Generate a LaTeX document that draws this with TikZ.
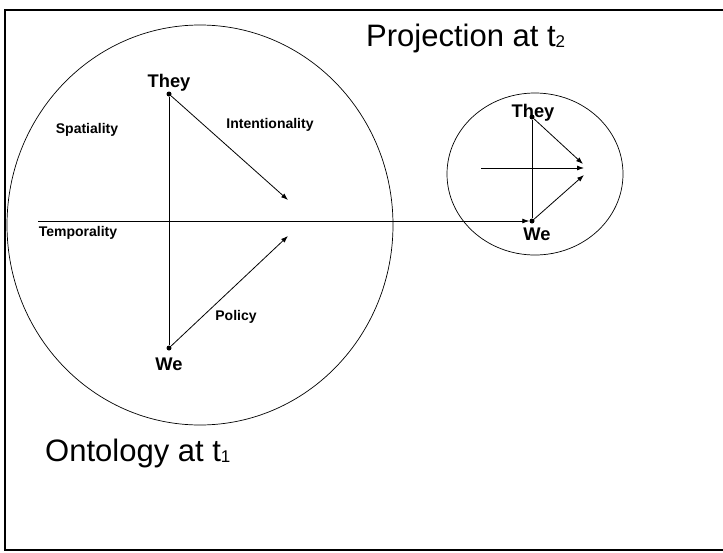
\documentclass[tikz,border=0pt]{standalone}
\usepackage{fontspec}
\setmainfont{Liberation Sans}
\usetikzlibrary{arrows.meta}
\newcommand{\subdig}[1]{\raisebox{-1pt}{\fontsize{17}{20}\selectfont #1}}
\tikzset{
  dot/.style={circle,fill=black,inner sep=0pt,minimum size=5pt},
  arr/.style={line width=0.8pt,-{Latex[length=7pt,width=5pt]}},
  ln/.style={line width=0.8pt},
  ring/.style={line width=0.7pt},
  big/.style={font=\fontsize{18.3}{21}\selectfont\bfseries,anchor=base,inner sep=0pt},
  lab/.style={font=\fontsize{14}{16}\selectfont\bfseries,anchor=base,inner sep=0pt},
  title/.style={font=\fontsize{31}{36}\selectfont,anchor=base west,inner sep=0pt}
}
\begin{document}
\begin{tikzpicture}[x=1pt,y=-1pt]
\useasboundingbox (0,0) rectangle (723,552);
% frame
\draw[line width=2pt] (723,10) -- (5,10) -- (5,550) -- (723,550);
% big circle
\draw[ring] (200,225) ellipse [x radius=193, y radius=200];
% small circle
\draw[ring] (535,174) ellipse [x radius=88, y radius=81];
% big diagram nodes
\node[dot] (T1) at (169,94) {};
\node[dot] (W1) at (169,348) {};
\coordinate (I1) at (288,200);
\coordinate (P1) at (288,236);
\coordinate (S0) at (38,221);
% small diagram nodes
\node[dot] (T2) at (532,117) {};
\node[dot] (W2) at (532,221) {};
\coordinate (A2) at (583,164);
\coordinate (B0) at (481,168);
\coordinate (B2) at (584,168);
\coordinate (C2) at (584,175);
% connectors
\draw[ln] (T1) -- (W1);
\draw[arr] (T1) -- (I1);
\draw[arr] (W1) -- (P1);
\draw[arr] (S0) -- (W2);
\draw[ln] (T2) -- (W2);
\draw[arr] (T2) -- (A2);
\draw[arr] (B0) -- (B2);
\draw[arr] (W2) -- (C2);
% labels
\node[big] (lT1) at (169,87) {They};
\node[big] (lW1) at (169,370) {We};
\node[big] (lT2) at (533,117) {They};
\node[big] (lW2) at (537,240) {We};
\node[lab] (lS) at (87,133) {Spatiality};
\node[lab] (lI) at (270,128) {Intentionality};
\node[lab] (lTm) at (78,236) {Temporality};
\node[lab] (lP) at (236,320) {Policy};
\node[title] (tP) at (366,46) {Projection at t\subdig{2}};
\node[title] (tO) at (45,461) {Ontology at t\subdig{1}};
\end{tikzpicture}
\end{document}
